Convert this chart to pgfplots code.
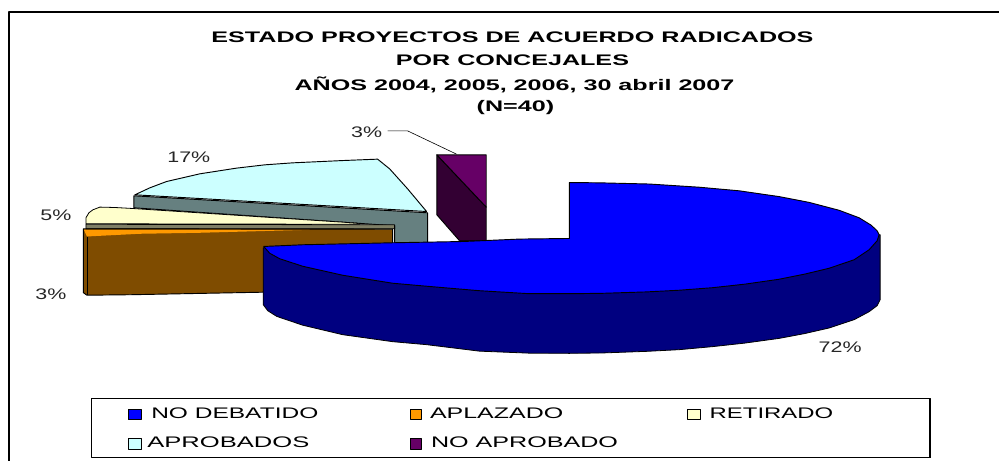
\documentclass[border=0pt]{standalone}
\usepackage{pgfplots}
\usepackage{fontspec}
\setmainfont{Liberation Sans}
\pgfplotsset{compat=1.18}
\definecolor{cblue}{HTML}{0000FF}
\definecolor{cblueside}{HTML}{000080}
\definecolor{corange}{HTML}{FF9900}
\definecolor{cbrown}{HTML}{7F4C00}
\definecolor{ccream}{HTML}{FFFFCC}
\definecolor{ccreamside}{HTML}{7F7F66}
\definecolor{ccyan}{HTML}{CCFFFF}
\definecolor{ccyanside}{HTML}{668080}
\definecolor{cpurple}{HTML}{660066}
\definecolor{cpurpleside}{HTML}{330033}
\begin{document}
\begin{tikzpicture}
\begin{axis}[
  scale only axis, width=750pt, height=345.75pt,
  xmin=0, xmax=1000, ymin=0, ymax=461, y dir=reverse,
  hide axis, clip=false,
  every axis plot/.append style={line join=round},
  ]
% page
\addplot[draw=none, fill=white] coordinates {(0,0)(1000,0)(1000,461)(0,461)} \closedcycle;
% frame
\addplot[black, line width=1.5pt] coordinates {(9,461)(9,12.5)(1000,12.5)};
% cyan slice
\addplot[fill=ccyanside, draw=black, line width=0.7pt] coordinates {(134,196)(428,213)(428,245)(395,245)(395,226)(134,208)} -- cycle;
\addplot[fill=ccyan, draw=black, line width=0.7pt] coordinates {(135,195)(150,188)(166.7,181.7)(200,174)(236.7,168.3)(265,165)(293,163)(343,160.7)(378,159.3)(390,169)(408,189)(427,211.7)} -- cycle;
% cream slice
\addplot[fill=ccream, draw=black, line width=0.6pt] coordinates {(86,224)(86,218)(89,213)(93,210)(100,207.3)(115,207.7)(133,208.7)(357,223.3)(360,224.5)} -- cycle;
\addplot[fill=ccreamside, draw=black, line width=0.6pt] coordinates {(86,224.5)(395,225)(395,229)(86,229)} -- cycle;
% orange slice
\addplot[fill=cbrown, draw=black, line width=0.7pt] coordinates {(83.5,229)(393,229.5)(393,290)(132,295)(87,295.5)(83.5,293)} -- cycle;
\addplot[fill=corange, draw=none] coordinates {(84,230)(310,230)(200,233)(140,234)(87,236.7)} -- cycle;
\addplot[black, line width=0.7pt] coordinates {(87.5,237)(87.5,295)};
% purple slice
\addplot[fill=cpurpleside, draw=black, line width=0.7pt] coordinates {(437.3,155)(486.7,207.3)(486.7,241)(460,241)(437.3,215)} -- cycle;
\addplot[fill=cpurple, draw=black, line width=0.7pt] coordinates {(437.3,155)(486.7,155)(486.7,207.3)} -- cycle;
% blue slice
\addplot[fill=cblueside, draw=black, line width=0.6pt] coordinates {(263.5,248)(881,235)(881,300)(878,306)(870,312)(855,320)(830,328.3)(805,334)(780,338.7)(745,343.5)(713,347)(680,350)(647,351.7)(603,353.3)(570,353.7)(530,353.5)(480,351.5)(427,345)(393,342)(343,335)(303,325.5)(277,316.7)(268,311)(263.5,305)} -- cycle;
\addplot[fill=cblue, draw=black, line width=0.7pt] coordinates {(264,246.7)(303,245)(393,243)(465,241.7)(520,239.3)(570,238.7)(570,182.7)(600,183)(650,184.2)(700,187.4)(740,191)(780,196.8)(810,202.6)(840,210.5)(860,218)(872,225.4)(878,231)(880,235)(878,241)(870,250)(855,260)(830,268.5)(805,274.5)(780,279.5)(745,284.5)(713,288)(680,290.5)(647,292.2)(603,293.6)(570,294)(530,294)(480,291)(427,286.5)(393,283.5)(343,275.5)(303,266.5)(280,259)(270,253.5)} -- cycle;
% leader
\addplot[black, line width=0.45pt] coordinates {(388,131)(408,131)(457,154.3)};
% legend
\addplot[black, line width=0.6pt, fill=white] coordinates {(91,399)(931,399)(931,458)(91,458)} -- cycle;
\addplot[black, line width=1.8pt] coordinates {(931,399)(931,458)};
\addplot[fill=cblue, draw=black, line width=0.5pt] coordinates {(128,410)(141.5,410)(141.5,420)(128,420)} -- cycle;
\addplot[fill=corange, draw=black, line width=0.5pt] coordinates {(411,410)(421.5,410)(421.5,420)(411,420)} -- cycle;
\addplot[fill=ccream, draw=black, line width=0.5pt] coordinates {(688,410)(701,410)(701,420)(688,420)} -- cycle;
\addplot[fill=ccyan, draw=black, line width=0.5pt] coordinates {(128,439)(141.5,439)(141.5,449.5)(128,449.5)} -- cycle;
\addplot[fill=cpurple, draw=black, line width=0.5pt] coordinates {(411,439)(421.5,439)(421.5,449.5)(411,449.5)} -- cycle;
% title
\begin{scope}[every node/.style={inner sep=0pt, xscale=1.64, font=\fontsize{11.5}{13}\selectfont\bfseries}]
\node at (axis cs:513,37.5) {ESTADO PROYECTOS DE ACUERDO RADICADOS};
\node at (axis cs:513,60.5) {POR CONCEJALES};
\node at (axis cs:515,85) {AÑOS 2004, 2005, 2006, 30 abril 2007};
\node at (axis cs:516,108) {(N=40)};
\end{scope}
% data labels
\begin{scope}[every node/.style={inner sep=0pt, xscale=1.4, text=black!85, font=\fontsize{11.5}{13}\selectfont}]
\node at (axis cs:367,132) {3\%};
\node at (axis cs:189,157) {17\%};
\node at (axis cs:56,215) {5\%};
\node at (axis cs:51,295) {3\%};
\node at (axis cs:841,348) {72\%};
\end{scope}
% legend text
\begin{scope}[every node/.style={inner sep=0pt, anchor=west, font=\fontsize{11.5}{13}\selectfont}]
\node[xscale=1.6] at (axis cs:151,413.5) {NO DEBATIDO};
\node[xscale=1.63] at (axis cs:430,413.5) {APLAZADO};
\node[xscale=1.56] at (axis cs:710,413.5) {RETIRADO};
\node[xscale=1.67] at (axis cs:147,442.5) {APROBADOS};
\node[xscale=1.64] at (axis cs:431,442.5) {NO APROBADO};
\end{scope}
\end{axis}
\end{tikzpicture}
\end{document}
